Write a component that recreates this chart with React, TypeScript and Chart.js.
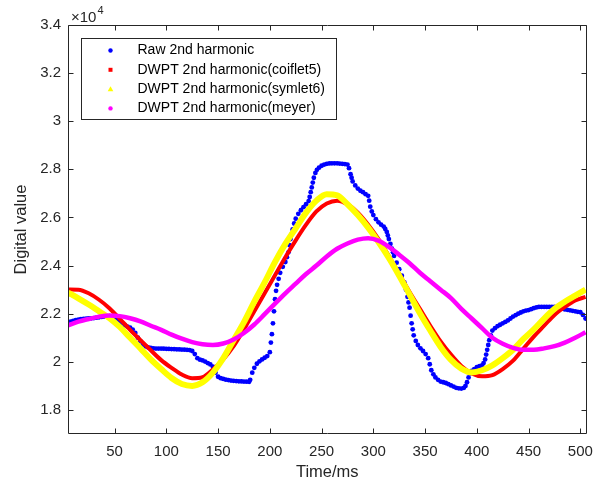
import React, { useEffect, useRef } from "react";
import { Chart, registerables } from "chart.js";

Chart.register(...registerables);

const smoothTime = [5, 15, 25, 35, 45, 55, 65, 75, 85, 95, 105, 115, 125, 135, 145, 155, 165, 175, 185, 195, 205, 215, 225, 235, 245, 255, 265, 275, 285, 295, 305, 315, 325, 335, 345, 355, 365, 375, 385, 395, 405, 415, 425, 435, 445, 455, 465, 475, 485, 495, 505];

const coiflet5 = [23010, 23000, 22850, 22580, 22230, 21790, 21330, 20900, 20480, 20070, 19750, 19470, 19320, 19360, 19680, 20100, 20650, 21350, 22100, 22850, 23600, 24350, 25050, 25700, 26250, 26580, 26700, 26550, 26200, 25700, 25100, 24400, 23650, 22900, 22200, 21500, 20850, 20300, 19830, 19520, 19400, 19450, 19700, 20050, 20550, 21050, 21500, 21950, 22280, 22550, 22700];

const symlet6 = [22880, 22640, 22380, 22100, 21820, 21450, 21000, 20560, 20100, 19700, 19330, 19080, 19000, 19150, 19550, 20150, 20900, 21650, 22500, 23300, 24150, 24900, 25550, 26200, 26700, 26970, 26920, 26550, 26100, 25580, 24980, 24320, 23580, 22800, 22020, 21300, 20620, 20080, 19720, 19560, 19650, 19850, 20150, 20500, 20950, 21350, 21800, 22200, 22500, 22750, 23000];

const meyer = [21520, 21670, 21780, 21880, 21930, 21900, 21810, 21680, 21500, 21330, 21130, 20960, 20820, 20730, 20700, 20760, 20930, 21200, 21550, 21980, 22420, 22850, 23250, 23650, 24000, 24380, 24700, 24920, 25080, 25140, 25040, 24780, 24450, 24100, 23700, 23350, 23000, 22650, 22200, 21800, 21400, 21000, 20750, 20580, 20500, 20500, 20560, 20650, 20800, 21000, 21230];

const rawTime = [
  5, 7.5, 10, 12.5, 15, 17.5, 20, 22.5, 25, 27.5,
  30, 32.5, 35, 37.5, 40, 42.5, 45, 47.5, 50, 52.5,
  55, 57.5, 60, 62.5, 65, 67.5, 70, 72.5, 75, 77.5,
  80, 82.5, 85, 87.5, 90, 92.5, 95, 97.5, 100, 102.5,
  105, 107.5, 110, 112.5, 115, 117.5, 120, 122.5, 125, 127.5,
  130, 132.5, 135, 137.5, 140, 142.5, 145, 147.5, 150, 152.5,
  155, 157.5, 160, 162.5, 165, 167.5, 170, 172.5, 175, 177.5,
  180, 181, 183, 185, 187.5, 190, 192.5, 195, 197.5, 200,
  201, 202, 203, 204, 205, 206, 207, 208.5, 210, 212.5,
  215, 216.5, 218, 219, 220, 221, 222, 223.5, 225, 227.5,
  230, 232.5, 235, 237.5, 238.5, 239.5, 240.5, 241.5, 242.5, 244,
  245.5, 247.5, 250, 252.5, 255, 257.5, 260, 262.5, 265, 267.5,
  270, 272.5, 275, 276.5, 278, 279, 280, 282.5, 285, 287.5,
  290, 292.5, 295, 296, 297, 298.5, 300, 302.5, 305, 307.5,
  310, 311.5, 313, 314, 315, 316.5, 318, 319, 320, 322.5,
  325, 327.5, 330, 331.5, 333, 334, 335, 336, 337, 338,
  339, 341, 343, 345.5, 348, 350.5, 353, 354.5, 356, 358,
  360, 362.5, 365, 367.5, 370, 372.5, 375, 377.5, 380, 382.5,
  385, 387.5, 389, 390.5, 392, 393.5, 395, 397.5, 400, 402.5,
  405, 406.5, 408, 409, 410, 411, 412, 413.5, 415, 417.5,
  420, 422.5, 425, 427.5, 430, 432.5, 435, 437.5, 440, 442.5,
  445, 447.5, 450, 452.5, 455, 457.5, 460, 462.5, 465, 467.5,
  470, 472.5, 475, 477.5, 480, 482.5, 485, 487.5, 490, 492.5,
  495, 497.5, 500, 502.5, 505,
];

const rawValue = [
  21640, 21670, 21700, 21730, 21750, 21770, 21780, 21790, 21800, 21810,
  21820, 21835, 21850, 21865, 21880, 21895, 21900, 21870, 21820, 21760,
  21700, 21600, 21520, 21460, 21420, 21340, 21200, 21000, 20850, 20720,
  20640, 20600, 20580, 20560, 20550, 20550, 20550, 20545, 20540, 20535,
  20530, 20525, 20520, 20515, 20510, 20505, 20500, 20490, 20450, 20320,
  20150, 20090, 20060, 20010, 19950, 19890, 19800, 19550, 19380, 19320,
  19290, 19260, 19240, 19220, 19210, 19200, 19190, 19185, 19180, 19175,
  19170, 19250, 19550, 19750, 19920, 20020, 20100, 20170, 20240, 20400,
  20800, 21150, 21600, 22100, 22600, 22950, 23200, 23450, 23700, 23950,
  24150, 24350, 24550, 24850, 25100, 25300, 25500, 25750, 25950, 26150,
  26300, 26430, 26550, 26680, 26850, 27050, 27250, 27450, 27650, 27850,
  27980, 28070, 28150, 28200, 28230, 28245, 28250, 28250, 28250, 28240,
  28230, 28220, 28200, 28050, 27800, 27650, 27500, 27330, 27200, 27110,
  27050, 26970, 26900, 26700, 26450, 26250, 26100, 25930, 25800, 25700,
  25620, 25520, 25400, 25250, 25100, 24900, 24700, 24550, 24400, 24120,
  23850, 23580, 23300, 23000, 22700, 22470, 22250, 21920, 21600, 21350,
  21100, 20870, 20700, 20560, 20450, 20320, 20150, 19900, 19650, 19480,
  19350, 19250, 19180, 19150, 19120, 19070, 19020, 18970, 18920, 18900,
  18890, 18920, 19000, 19150, 19350, 19520, 19620, 19700, 19780, 19820,
  19850, 19950, 20100, 20300, 20500, 20700, 20900, 21100, 21300, 21400,
  21480, 21540, 21600, 21660, 21720, 21800, 21880, 21940, 22000, 22050,
  22100, 22130, 22150, 22190, 22230, 22260, 22280, 22280, 22280, 22280,
  22280, 22280, 22280, 22270, 22250, 22210, 22180, 22160, 22140, 22120,
  22100, 22080, 22060, 21950, 21800,
];

const seriesLabels = [
  "Raw 2nd harmonic",
  "DWPT 2nd harmonic(coiflet5)",
  "DWPT 2nd harmonic(symlet6)",
  "DWPT 2nd harmonic(meyer)",
];
const seriesColors = ["#0000ff", "#ff0000", "#ffff00", "#ff00ff"];

const xTickValues = [50, 100, 150, 200, 250, 300, 350, 400, 450, 500];
const yTickValues = [18000, 20000, 22000, 24000, 26000, 28000, 30000, 32000, 34000];
const xRange = [5, 506];
const yRange = [17000, 34000];

const FONT = "'Liberation Sans', Arial, Helvetica, sans-serif";
const AXIS_COLOR = "#262626";

const framePlugin = {
  id: "matlabFrame",
  afterDraw(chart: any) {
    const { ctx, chartArea } = chart;
    const { left, top, right, bottom } = chartArea;
    const xs = chart.scales.x;
    const ys = chart.scales.y;
    ctx.save();
    ctx.strokeStyle = AXIS_COLOR;
    ctx.lineWidth = 1;
    const L = Math.round(left) + 0.5;
    const R = Math.round(right) - 0.5;
    const T = Math.round(top) + 0.5;
    const B = Math.round(bottom) - 0.5;
    ctx.beginPath();
    ctx.rect(L, T, R - L, B - T);
    ctx.stroke();
    const tl = 5;
    ctx.beginPath();
    xTickValues.forEach((v) => {
      const px = Math.round(xs.getPixelForValue(v)) + 0.5;
      ctx.moveTo(px, B);
      ctx.lineTo(px, B - tl);
      ctx.moveTo(px, T);
      ctx.lineTo(px, T + tl);
    });
    yTickValues.forEach((v) => {
      const py = Math.round(ys.getPixelForValue(v)) + 0.5;
      ctx.moveTo(L, py);
      ctx.lineTo(L + tl, py);
      ctx.moveTo(R, py);
      ctx.lineTo(R - tl, py);
    });
    ctx.stroke();

    // exponent label
    ctx.fillStyle = AXIS_COLOR;
    ctx.textBaseline = "middle";
    ctx.textAlign = "left";
    ctx.font = `15px ${FONT}`;
    ctx.fillText("\u00d710", left + 3, top - 7);
    const w = ctx.measureText("\u00d710").width;
    ctx.font = `11px ${FONT}`;
    ctx.fillText("4", left + 3 + w + 1, top - 14);

    // legend
    const bx = left + 13.5;
    const by = top + 13.5;
    const bw = 255;
    const bh = 81;
    ctx.fillStyle = "#ffffff";
    ctx.fillRect(bx, by, bw, bh);
    ctx.strokeStyle = AXIS_COLOR;
    ctx.strokeRect(bx, by, bw, bh);
    ctx.font = `14px ${FONT}`;
    seriesLabels.forEach((lab, i) => {
      const cy = by + 12 + i * 19.3;
      const mx = bx + 29;
      ctx.fillStyle = seriesColors[i];
      if (i === 0 || i === 3) {
        ctx.beginPath();
        ctx.arc(mx, cy, 2.2, 0, Math.PI * 2);
        ctx.fill();
      } else if (i === 1) {
        ctx.fillRect(mx - 2, cy - 2, 4, 4);
      } else {
        ctx.beginPath();
        ctx.moveTo(mx, cy - 2.8);
        ctx.lineTo(mx + 2.8, cy + 2.2);
        ctx.lineTo(mx - 2.8, cy + 2.2);
        ctx.closePath();
        ctx.fill();
      }
      ctx.fillStyle = "#000000";
      ctx.textAlign = "left";
      ctx.textBaseline = "middle";
      ctx.fillText(lab, bx + 56, cy);
    });
    ctx.restore();
  },
};

export default function App() {
  const canvasRef = useRef<HTMLCanvasElement | null>(null);

  useEffect(() => {
    document.body.style.margin = "0";
    const canvas = canvasRef.current;
    if (!canvas) return;

    const smoothSet = (idx: number, values: number[], width: number, order: number) => ({
      label: seriesLabels[idx],
      data: smoothTime.map((t, i) => ({ x: t, y: values[i] })),
      borderColor: seriesColors[idx],
      backgroundColor: seriesColors[idx],
      borderWidth: width,
      pointRadius: 0,
      pointHoverRadius: 0,
      cubicInterpolationMode: "monotone" as const,
      fill: false,
      order,
    });

    const n = Math.min(rawTime.length, rawValue.length);
    const rawPoints = rawTime.slice(0, n).map((t, i) => ({ x: t, y: rawValue[i] }));

    const chart = new Chart(canvas, {
      type: "line",
      data: {
        datasets: [
          {
            label: seriesLabels[0],
            data: rawPoints,
            showLine: false,
            pointRadius: 2.4,
            pointBorderWidth: 0,
            pointBackgroundColor: seriesColors[0],
            pointBorderColor: seriesColors[0],
            borderColor: seriesColors[0],
            order: 4,
          } as any,
          smoothSet(1, coiflet5, 4, 3),
          smoothSet(2, symlet6, 6, 2),
          smoothSet(3, meyer, 4.5, 1),
        ],
      },
      options: {
        animation: false,
        responsive: false,
        maintainAspectRatio: false,
        events: [],
        layout: { padding: { left: 0, top: 25, right: 11, bottom: 0 } },
        plugins: {
          legend: { display: false },
          tooltip: { enabled: false },
          title: { display: false },
        },
        scales: {
          x: {
            type: "linear",
            min: xRange[0],
            max: xRange[1],
            afterBuildTicks: (s: any) => {
              s.ticks = xTickValues.map((v) => ({ value: v }));
            },
            afterFit: (s: any) => {
              s.height = 53;
            },
            grid: { display: false, drawTicks: false },
            border: { display: false },
            ticks: {
              color: AXIS_COLOR,
              font: { family: FONT, size: 15 },
              padding: 9,
              maxRotation: 0,
              autoSkip: false,
            },
            title: {
              display: true,
              text: "Time/ms",
              color: AXIS_COLOR,
              font: { family: FONT, size: 16.5 },
              padding: { top: 0, bottom: 5 },
            },
          },
          y: {
            type: "linear",
            min: yRange[0],
            max: yRange[1],
            afterBuildTicks: (s: any) => {
              s.ticks = yTickValues.map((v) => ({ value: v }));
            },
            afterFit: (s: any) => {
              s.width = 68;
            },
            grid: { display: false, drawTicks: false },
            border: { display: false },
            ticks: {
              color: AXIS_COLOR,
              font: { family: FONT, size: 15 },
              padding: 7,
              autoSkip: false,
              callback: (v: any) => String(Number((Number(v) / 10000).toFixed(1))),
            },
            title: {
              display: true,
              text: "Digital value",
              color: AXIS_COLOR,
              font: { family: FONT, size: 16.5 },
              padding: { top: 12, bottom: 0 },
            },
          },
        },
      },
      plugins: [framePlugin],
    });

    return () => {
      chart.destroy();
    };
  }, []);

  return (
    <div style={{ width: 602, height: 487, background: "#ffffff" }}>
      <canvas ref={canvasRef} width={602} height={487} style={{ display: "block" }} />
    </div>
  );
}
